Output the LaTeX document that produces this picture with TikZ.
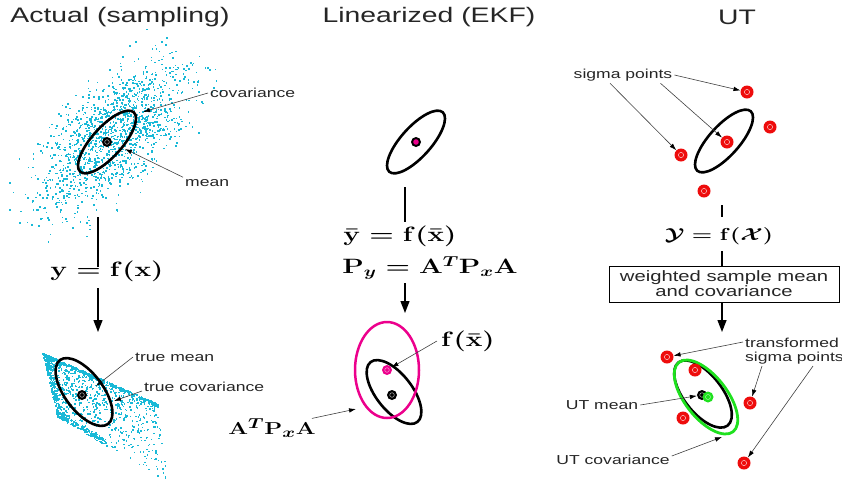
\documentclass[tikz,border=0pt]{standalone}
\usepackage{amsmath,amssymb}
\usepackage[no-math]{fontspec}
\newfontfamily\hv[FakeStretch=1.35]{Liberation Sans}
\usetikzlibrary{positioning,calc,arrows.meta}
\definecolor{dotcyan}{RGB}{25,185,215}
\definecolor{sigred}{RGB}{238,12,12}
\definecolor{utgreen}{RGB}{30,225,30}

\begin{document}
\begin{tikzpicture}[
    x=1pt, y=1pt,
    ttl/.style={font=\hv\fontsize{21}{21}\selectfont, text=black!85},
    lbl/.style={font=\hv\fontsize{13}{13.5}\selectfont, text=black!85, inner sep=2pt},
    eqn/.style={font=\fontsize{20}{22}\selectfont\boldmath, xscale=1.35, inner sep=0pt},
    ptr/.style={draw=black!75, line width=0.6pt, -{Latex[length=7pt,width=4.5pt,color=black]}},
    flowline/.style={line width=1.3pt},
    flow/.style={line width=1.3pt, -{Triangle[length=12pt,width=9pt]}},
    cov/.style={line width=2.6pt},
    meanpt/.style={circle, fill=black, minimum size=10pt, inner sep=0pt,
        path picture={\draw[white!70!black, line width=0.5pt] (path picture bounding box.center) circle (2.3pt);}},
    ekfpt/.style={circle, fill=black, minimum size=10pt, inner sep=0pt,
        path picture={\fill[magenta] (path picture bounding box.center) circle (2.8pt);}},
    fxpt/.style={circle, fill=magenta, minimum size=10pt, inner sep=0pt,
        path picture={\draw[white!60!magenta, line width=0.5pt] (path picture bounding box.center) circle (2.3pt);}},
    utpt/.style={circle, fill=utgreen, minimum size=11pt, inner sep=0pt,
        path picture={\draw[white!60!utgreen, line width=0.5pt] (path picture bounding box.center) circle (2.5pt);}},
    sigpt/.style={circle, fill=sigred, minimum size=13pt, inner sep=0pt,
        path picture={\draw[white!75!sigred, line width=0.5pt] (path picture bounding box.center) circle (2.6pt);}},
]
\useasboundingbox (0,0) rectangle (842,-483);

% ===== LEFT PANEL: Actual (sampling) =====
\node[ttl] (AT) at (120,-17) {Actual (sampling)};

% prior samples
\pgfmathsetseed{3}
\foreach \i in {1,...,1400}{
  \pgfmathsetmacro\ua{48*(rand+rand+rand)}
  \pgfmathsetmacro\ub{22*(rand+rand+rand)}
  \fill[dotcyan] ({112+0.731*\ua-0.682*\ub},{-136+0.682*\ua+0.731*\ub}) rectangle ++(1.6,1.6);
}
\draw[cov, rotate around={48:(107,-142)}] (107,-142) ellipse [x radius=40pt, y radius=15pt];
\node[meanpt] (AM) at (107,-142) {};

\coordinate (ACtip) at (143,-112);
\coordinate (AMtip) at (125,-149);
\node[lbl, anchor=west] (ACl) at (208,-93) {covariance};
\node[lbl, anchor=west] (AMl) at (183,-183) {mean};
\draw[ptr] (ACl.west) -- (ACtip);
\draw[ptr] (AMl.north west) -- (AMtip);

% mapping
\coordinate (A1) at (98,-217);
\coordinate (A2) at (98,-267);
\coordinate (A3) at (98,-288);
\coordinate (A4) at (98,-332);
\draw[flowline] (A1) -- (A2);
\node[eqn] (AF) at (107,-271) {$\mathbf{y}=\mathbf{f}(\mathbf{x})$};
\draw[flow] (A3) -- (A4);

% transformed samples
\foreach \i in {1,...,900}{
  \pgfmathsetmacro\s{rnd^1.3}
  \pgfmathsetmacro\t{rnd^2}
  \fill[dotcyan] ({42+115*\s+15*\t-5*\s*\t},{-354-51*\s-64*\t-14*\s*\t}) rectangle ++(1.5,1.5);
}
\foreach \i in {1,...,260}{
  \pgfmathsetmacro\s{rnd}
  \pgfmathsetmacro\t{0.05*rnd}
  \fill[dotcyan] ({42+115*\s+15*\t},{-354-51*\s-64*\t}) rectangle ++(1.5,1.5);
}
\foreach \i in {1,...,200}{
  \pgfmathsetmacro\s{0.06*rnd}
  \pgfmathsetmacro\t{rnd}
  \fill[dotcyan] ({42+115*\s+15*\t},{-354-51*\s-64*\t}) rectangle ++(1.5,1.5);
}
\foreach \i in {1,...,160}{
  \pgfmathsetmacro\s{0.45*rnd}
  \pgfmathsetmacro\t{0.9+0.1*rnd}
  \fill[dotcyan] ({42+115*\s+15*\t-5*\s*\t},{-354-51*\s-64*\t-14*\s*\t}) rectangle ++(1.5,1.5);
}
\draw[cov, rotate around={-53:(84,-392)}] (84,-392) ellipse [x radius=40pt, y radius=19pt];
\node[meanpt] (BM) at (82,-395) {};

\coordinate (BMtip) at (96,-386);
\coordinate (BCtip) at (114,-401);
\node[lbl, anchor=west] (BMl) at (133,-357) {true mean};
\node[lbl, anchor=west] (BCl) at (142,-387) {true covariance};
\draw[ptr] (BMl.west) -- (BMtip);
\draw[ptr] ([yshift=-4pt]BCl.west) -- (BCtip);

% ===== MIDDLE PANEL: Linearized (EKF) =====
\node[ttl] (LT) at (429,-17) {Linearized (EKF)};

\draw[cov, rotate around={48:(416,-142)}] (416,-142) ellipse [x radius=40pt, y radius=15pt];
\node[ekfpt] (LM) at (416,-142) {};

\coordinate (L1) at (405,-187);
\coordinate (L2) at (405,-222);
\coordinate (L3) at (405,-283);
\coordinate (L4) at (405,-313);
\draw[flowline] (L1) -- (L2);
\node[eqn, font=\fontsize{22}{24}\selectfont\boldmath] (LF) at (400,-236) {$\bar{\mathbf{y}}=\mathbf{f}(\bar{\mathbf{x}})$};
\node[eqn, font=\fontsize{22}{24}\selectfont\boldmath] (LP) at (430,-268) {$\mathbf{P}_y=\mathbf{A}^T\mathbf{P}_x\mathbf{A}$};
\draw[flow] (L3) -- (L4);

% linearized result
\draw[cov, rotate around={-52:(394,-392)}] (394,-392) ellipse [x radius=38pt, y radius=18pt];
\draw[line width=2.5pt, magenta] (387,-370) ellipse [x radius=32pt, y radius=48pt];
\node[meanpt] (LB) at (392,-395) {};
\node[fxpt] (LX) at (387,-370) {};

\coordinate (LAtip) at (356,-409);
\node[eqn, font=\fontsize{20}{22}\selectfont\boldmath] (LXl) at (468,-341) {$\mathbf{f}(\bar{\mathbf{x}})$};
\node[eqn, font=\fontsize{19}{21}\selectfont\boldmath] (LAl) at (272,-428) {$\mathbf{A}^T\mathbf{P}_x\mathbf{A}$};
\draw[ptr] ([xshift=-4pt]LXl.west) -- (LX);
\draw[ptr] ([xshift=-4pt]LAl.north east) -- (LAtip);

% ===== RIGHT PANEL: UT =====
\node[ttl] (UT) at (737,-17) {UT};

\draw[cov, rotate around={48:(724,-141)}] (724,-141) ellipse [x radius=40pt, y radius=15pt];
\node[sigpt] (S0) at (727,-142) {};
\node[sigpt] (S1) at (747,-92) {};
\node[sigpt] (S2) at (770,-127) {};
\node[sigpt] (S3) at (681,-155) {};
\node[sigpt] (S4) at (704,-191) {};

\node[lbl] (Sl) at (623,-75) {sigma points};
\draw[ptr] (Sl.east) -- (S1);
\draw[ptr] ([xshift=-14pt]Sl.south east) -- (S0);
\draw[ptr] ([xshift=-13pt]Sl.south) -- (S3);

\coordinate (R1) at (722,-205);
\coordinate (R2) at (722,-217);
\coordinate (R3) at (722,-251);
\coordinate (R4) at (722,-332);
\draw[flowline] (R1) -- (R2);
\node[eqn, font=\fontsize{19}{21}\selectfont\boldmath] (RF) at (719,-236) {$\mathcal{Y}=\mathbf{f}(\mathcal{X})$};
\node[draw, line width=1pt, minimum width=230pt, minimum height=36pt, align=center,
      font=\hv\fontsize{15}{11.5}\selectfont, text=black!85] (RB) at (724,-284)
      {weighted sample mean\\and covariance};
\draw[flowline] (R3) -- (RB.north -| R3);
\draw[flow] (RB.south -| R4) -- (R4);

% transformed sigma points
\draw[cov, rotate around={-52:(703,-394)}] (703,-394) ellipse [x radius=40pt, y radius=19pt];
\draw[line width=2.8pt, utgreen, rotate around={-52:(706,-397)}] (706,-397) ellipse [x radius=44pt, y radius=21pt];
\node[sigpt] (T1) at (667,-357) {};
\node[sigpt] (T2) at (695,-370) {};
\node[sigpt] (T3) at (750,-403) {};
\node[sigpt] (T4) at (683,-418) {};
\node[sigpt] (T5) at (744,-463) {};
\node[meanpt] (RM) at (702,-395) {};
\node[utpt] (RG) at (708,-397) {};

\node[lbl, anchor=west, align=left] (Tl) at (743,-351) {transformed\\sigma points};
\draw[ptr] ([yshift=-6pt]Tl.north west) -- (T1);
\draw[ptr] ([xshift=19pt]Tl.south west) -- (T3);
\draw[ptr] ([xshift=70pt]Tl.south west) -- (T5);

\coordinate (UCtip) at (722,-437);
\node[lbl] (UMl) at (602,-405) {UT mean};
\node[lbl] (UCl) at (613,-460) {UT covariance};
\draw[ptr] (UMl.east) -- (RM);
\draw[ptr] ([yshift=4pt]UCl.east) -- (UCtip);

\end{tikzpicture}
\end{document}
